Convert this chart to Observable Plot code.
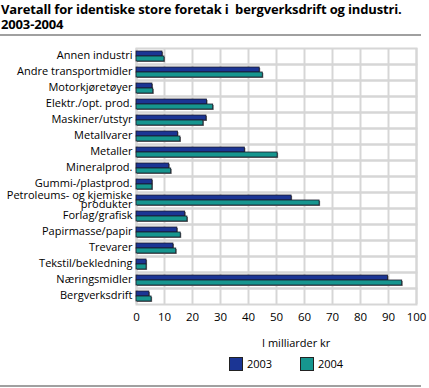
<!DOCTYPE html>
<html><head><meta charset="utf-8">
<script src="https://cdn.jsdelivr.net/npm/d3@7"></script>
<script src="https://cdn.jsdelivr.net/npm/@observablehq/plot@0.6"></script>
<style>
body{margin:0;background:#fff;font-family:"Open Sans",sans-serif;color:#000;width:429px;height:388px;position:relative;overflow:hidden;}
#title{position:absolute;left:1px;top:2px;font-weight:bold;font-size:13px;line-height:15px;white-space:pre;letter-spacing:-0.15px;}
.rule{position:absolute;left:0;width:421px;height:2px;background:#a0a0a0;}
#chart{position:absolute;left:0;top:38px;}
#xlabel{position:absolute;left:262px;top:335px;font-size:11px;}
#legend{position:absolute;top:357px;left:0;font-size:11px;}
.sw{position:absolute;top:0;width:14px;height:14px;border:1px solid #222;box-sizing:border-box;}
.lt{position:absolute;top:0;line-height:14px;}
</style></head><body>
<div id="title"></div>
<div class="rule" style="top:34px"></div>
<div id="chart"></div>
<div id="xlabel"></div>
<div id="legend"></div>
<div class="rule" style="top:385px"></div>
<script>
const titleText = "Varetall for identiske store foretak i  bergverksdrift og industri.\n2003-2004";
const axisLabel = "I milliarder kr";
const categories = ["Annen industri","Andre transportmidler","Motorkjøretøyer","Elektr./opt. prod.","Maskiner/utstyr","Metallvarer","Metaller","Mineralprod.","Gummi-/plastprod.","Petroleums- og kjemiske\nprodukter","Forlag/grafisk","Papirmasse/papir","Trevarer","Tekstil/bekledning","Næringsmidler","Bergverksdrift"];
const series = ["2003","2004"];
const v2003 = [9.3,44.0,5.7,25.2,25.0,14.8,38.7,11.7,5.7,55.4,17.4,14.6,13.2,3.6,89.8,4.6];
const v2004 = [10.0,45.1,6.0,27.4,23.9,15.7,50.4,12.4,5.7,65.4,18.2,15.8,14.2,3.6,94.9,5.4];
const colors = ["#1b3594","#16968f"];
const xTicks = [0,10,20,30,40,50,60,70,80,90,100];

document.getElementById("title").textContent = titleText;
document.getElementById("xlabel").textContent = axisLabel;

const data = [];
categories.forEach((c,i)=>{
  data.push({cat:c, year:series[0], value:v2003[i]});
  data.push({cat:c, year:series[1], value:v2004[i]});
});

const chart = Plot.plot({
  width: 429,
  height: 292,
  marginLeft: 136,
  marginRight: 13,
  marginTop: 6,
  marginBottom: 22,
  style: {fontFamily: "'Open Sans', sans-serif", fontSize: "11px", color: "#000", background: "#fff"},
  x: {domain: [0,100], ticks: xTicks},
  y: {domain: series, paddingInner: 0, paddingOuter: 0.4, axis: null},
  fy: {domain: categories, padding: 0},
  color: {domain: series, range: colors},
  marks: [
    Plot.gridX(xTicks, {stroke: "#d6d6d6", strokeOpacity: 1, strokeWidth: 2}),
    Plot.frame({stroke: "#d6d6d6", strokeWidth: 2}),
    Plot.barX(data, {x: "value", y: "year", fy: "cat", fill: "#777", dx: 1, dy: 1}),
    Plot.barX(data, {x: "value", y: "year", fy: "cat", fill: "year", stroke: "#1a1a2a", strokeWidth: 0.8}),
    Plot.axisX(xTicks, {tickSize: 0, tickPadding: 8, label: null, tickFormat: d=>String(d), fontSize: 11.5}),
    Plot.axisFy({anchor: "left", tickSize: 0, tickPadding: 4, label: null, lineHeight: 0.82, fontSize: 11})
  ]
});
document.getElementById("chart").appendChild(chart);

const legend = document.getElementById("legend");
const swX = [229, 300];
series.forEach((s,i)=>{
  const sw = document.createElement("div");
  sw.className = "sw"; sw.style.left = swX[i]+"px"; sw.style.background = colors[i];
  legend.appendChild(sw);
  const t = document.createElement("div");
  t.className = "lt"; t.style.left = (swX[i]+18)+"px"; t.textContent = s;
  legend.appendChild(t);
});
</script>
</body></html>
